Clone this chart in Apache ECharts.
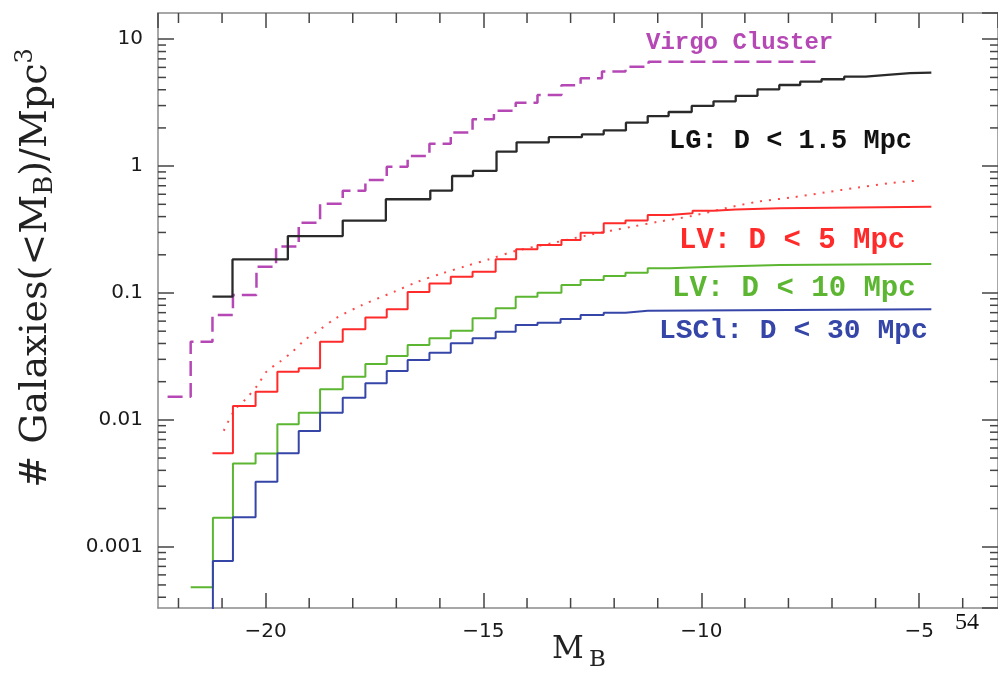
<!DOCTYPE html>
<html><head><meta charset="utf-8">
<script src="https://cdn.jsdelivr.net/npm/echarts@6/dist/echarts.min.js"></script>
<style>html,body{margin:0;padding:0;background:#fff}#c{width:998px;height:673px}</style>
</head><body><div id="c"></div>
<script>
// ---- axis ranges and ticks ----
const xMin = -22.47, xMax = -3.19;
const yMin = 3.29e-4, yMax = 16.1;
const xTickValues = [-20, -15, -10, -5];
const xTickLabels = ['\u221220', '\u221215', '\u221210', '\u22125'];
const xMinorTicks = [-22, -21, -19, -18, -17, -16, -14, -13, -12, -11, -9, -8, -7, -6, -4];
const yTickValues = [0.001, 0.01, 0.1, 1, 10];
const yTickLabels = ['0.001', '0.01', '0.1', '1', '10'];
const yDecades = [1e-4, 1e-3, 1e-2, 1e-1, 1, 10];
const yMinorMult = [2, 3, 4, 5, 6, 7, 8, 9];

// ---- Virgo Cluster (dashed) ----
const virgoM = [-22.25, -21.72, -21.22, -20.75, -20.21, -19.76, -19.24, -18.75, -18.23, -17.71, -17.22, -16.74, -16.24, -15.75, -15.25, -14.76, -14.26, -13.76, -13.21, -12.77, -12.28, -11.74, -11.21, -7.24];
const virgoN = [0.0152, 0.0413, 0.0671, 0.0964, 0.161, 0.232, 0.358, 0.504, 0.640, 0.778, 0.99, 1.20, 1.50, 1.84, 2.34, 2.73, 3.16, 3.64, 4.33, 4.93, 5.56, 6.08, 6.66, 6.66];
// ---- LG: D < 1.5 Mpc ----
const lgM = [-21.22, -20.76, -19.49, -18.23, -17.24, -16.22, -15.72, -15.24, -14.70, -14.24, -13.50, -12.74, -12.24, -11.73, -11.23, -10.75, -10.22, -9.72, -9.21, -8.71, -8.21, -7.73, -7.24, -6.72, -6.23, -5.73, -5.21, -4.72];
const lgN = [0.0935, 0.184, 0.281, 0.372, 0.548, 0.641, 0.836, 0.916, 1.30, 1.54, 1.69, 1.78, 1.91, 2.20, 2.48, 2.67, 2.98, 3.24, 3.58, 4.03, 4.36, 4.63, 4.84, 5.07, 5.23, 5.40, 5.45, 5.45];
// ---- LV: D < 5 Mpc (solid) ----
const lv5M = [-21.22, -20.75, -20.23, -19.73, -19.24, -18.75, -18.23, -17.71, -17.22, -16.74, -16.24, -15.75, -15.25, -14.72, -14.25, -13.76, -13.21, -12.77, -12.24, -11.74, -11.23, -10.73, -10.20, -9.72, -9.21, -8.21, -4.72];
const lv5N = [0.00545, 0.01286, 0.01667, 0.0240, 0.0255, 0.0413, 0.0518, 0.064, 0.0744, 0.102, 0.119, 0.1345, 0.147, 0.1845, 0.221, 0.239, 0.262, 0.2985, 0.354, 0.372, 0.412, 0.425, 0.445, 0.455, 0.466, 0.479, 0.479];
// ---- LV: D < 5 Mpc (dotted curve) ----
const lv5dotM = [-20.96, -20.71, -20.44, -20.18, -19.98, -19.68, -19.39, -19.11, -18.80, -18.38, -17.78, -17.05, -16.51, -15.94, -15.40, -14.87, -14.26, -13.38, -12.58, -11.59, -10.98, -10.22, -9.45, -8.69, -7.93, -7.16, -6.40, -5.64, -4.99];
const lv5dotN = [0.00821, 0.01197, 0.01479, 0.01884, 0.0240, 0.0286, 0.0343, 0.0424, 0.0501, 0.0635, 0.0804, 0.1023, 0.1227, 0.143, 0.163, 0.1845, 0.2145, 0.249, 0.2865, 0.333, 0.365, 0.4045, 0.4655, 0.525, 0.566, 0.620, 0.679, 0.736, 0.771];
// ---- LV: D < 10 Mpc ----
const lv10M = [-21.72, -21.21, -20.75, -20.23, -19.73, -19.24, -18.75, -18.23, -17.71, -17.22, -16.74, -16.24, -15.75, -15.25, -14.72, -14.26, -13.76, -13.21, -12.77, -12.24, -11.74, -11.23, -10.73, -9.72, -8.21, -4.72];
const lv10N = [0.000479, 0.001694, 0.00454, 0.00544, 0.00923, 0.01138, 0.01741, 0.0219, 0.02754, 0.0319, 0.0389, 0.0440, 0.0505, 0.0632, 0.0757, 0.0935, 0.1005, 0.1156, 0.1266, 0.136, 0.1445, 0.1566, 0.161, 0.1664, 0.1695, 0.1695];
// ---- LSCl: D < 30 Mpc (first point lies below the axis: line rises from the bottom edge) ----
const lsclM = [-21.21, -21.21, -20.75, -20.23, -19.73, -19.24, -18.75, -18.23, -17.71, -17.22, -16.74, -16.24, -15.75, -15.25, -14.72, -14.26, -13.76, -13.23, -12.77, -12.24, -11.74, -11.23, -4.72];
const lsclN = [0.0001, 0.000771, 0.001706, 0.003255, 0.00545, 0.00817, 0.01138, 0.01494, 0.0194, 0.02427, 0.02965, 0.0338, 0.0401, 0.0440, 0.0496, 0.056, 0.0584, 0.0624, 0.0671, 0.070, 0.0725, 0.0744, 0.0744];

const zip = (a, b) => a.map((v, i) => [v, b[i]]);
const yMinor = [];
yDecades.forEach(d => yMinorMult.forEach(m => { const v = d * m; if (v > yMin && v < yMax) yMinor.push(v); }));

const C = {virgo: '#b548b5', lg: '#2a2a2a', red: '#ff2a2a', green: '#5cb632', blue: '#3545a8'};
const tickColor = '#444', frameColor = '#8a8a8a';

function stepLine(name, data, color, extra) {
  return Object.assign({
    name, type: 'line', step: 'end', data, showSymbol: false, symbol: 'none', clip: true,
    silent: true, animation: false,
    lineStyle: {color, width: 2}
  }, extra || {});
}

const chart = echarts.init(document.getElementById('c'));
const xAxisBase = {
  type: 'value', min: xMin, max: xMax, splitNumber: 4,
  axisLine: {show: true, onZero: false, lineStyle: {color: frameColor, width: 1.5}},
  axisTick: {show: true, inside: true, length: 15, lineStyle: {color: tickColor, width: 1.5}},
  splitLine: {show: false}
};
const yAxisBase = {
  type: 'log', logBase: 10, min: yMin, max: yMax, splitNumber: 5,
  axisLine: {show: true, onZero: false, lineStyle: {color: frameColor, width: 1.5}},
  axisTick: {show: true, inside: true, length: 16, lineStyle: {color: tickColor, width: 1.5}},
  splitLine: {show: false}
};
const labelFont = {fontFamily: 'DejaVu Sans', fontSize: 20, color: '#1a1a1a'};

chart.setOption({
  animation: false,
  backgroundColor: '#fff',
  grid: {left: 158, top: 13, right: -2, bottom: 65, containLabel: false},
  xAxis: [
    Object.assign({}, xAxisBase, {position: 'bottom',
      axisLabel: Object.assign({show: true, margin: 14, showMinLabel: false, showMaxLabel: false,
        formatter: v => { const i = xTickValues.findIndex(t => Math.abs(t - v) < 1e-6); return i >= 0 ? xTickLabels[i] : ''; }}, labelFont)}),
    Object.assign({}, xAxisBase, {position: 'top', axisLabel: {show: false}})
  ],
  yAxis: [
    Object.assign({}, yAxisBase, {position: 'left',
      axisLabel: Object.assign({show: true, margin: 15, showMinLabel: false, showMaxLabel: false,
        formatter: v => { const i = yTickValues.findIndex(t => Math.abs(Math.log10(t) - Math.log10(v)) < 1e-6); return i >= 0 ? yTickLabels[i] : ''; }}, labelFont)}),
    Object.assign({}, yAxisBase, {position: 'right', axisLabel: {show: false}})
  ],
  series: [
    {
      type: 'custom', silent: true, animation: false, clip: false,
      data: yMinor.map(v => [xMin, v]),
      renderItem: (params, api) => {
        const cs = params.coordSys;
        const y = api.coord([api.value(0), api.value(1)])[1];
        const st = {stroke: tickColor, lineWidth: 1.5};
        return {type: 'group', children: [
          {type: 'line', shape: {x1: cs.x, y1: y, x2: cs.x + 8, y2: y}, style: st},
          {type: 'line', shape: {x1: cs.x + cs.width, y1: y, x2: cs.x + cs.width - 8, y2: y}, style: st}
        ]};
      }
    },
    {
      type: 'custom', silent: true, animation: false, clip: false,
      data: xMinorTicks.map(v => [v, yMin]),
      renderItem: (params, api) => {
        const cs = params.coordSys;
        const x = api.coord([api.value(0), api.value(1)])[0];
        const st = {stroke: tickColor, lineWidth: 1.5};
        return {type: 'group', children: [
          {type: 'line', shape: {x1: x, y1: cs.y + cs.height, x2: x, y2: cs.y + cs.height - 10}, style: st},
          {type: 'line', shape: {x1: x, y1: cs.y, x2: x, y2: cs.y + 10}, style: st}
        ]};
      }
    },
    stepLine('Virgo Cluster', zip(virgoM, virgoN), C.virgo, {lineStyle: {color: C.virgo, width: 2.5, type: [15, 7]}}),
    stepLine('LG: D < 1.5 Mpc', zip(lgM, lgN), C.lg, {lineStyle: {color: C.lg, width: 2.3}}),
    stepLine('LV: D < 5 Mpc', zip(lv5M, lv5N), C.red),
    {name: 'LV: D < 5 Mpc model', type: 'line', data: zip(lv5dotM, lv5dotN), smooth: 0.3, showSymbol: false, symbol: 'none',
      silent: true, animation: false, lineStyle: {color: C.red, width: 2, type: [2, 7], opacity: 0.85}},
    stepLine('LV: D < 10 Mpc', zip(lv10M, lv10N), C.green),
    stepLine('LSCl: D < 30 Mpc', zip(lsclM, lsclN), C.blue)
  ],
  graphic: [
    {type: 'text', left: 646, top: 31, style: {text: 'Virgo Cluster', fill: C.virgo, font: 'bold 24px "Liberation Mono"'}},
    {type: 'text', left: 669, top: 128, style: {text: 'LG: D < 1.5 Mpc', fill: '#111', font: 'bold 27px "Liberation Mono"'}},
    {type: 'text', left: 679, top: 226, style: {text: 'LV: D < 5 Mpc', fill: C.red, font: 'bold 29px "Liberation Mono"'}},
    {type: 'text', left: 672, top: 274, style: {text: 'LV: D < 10 Mpc', fill: C.green, font: 'bold 29px "Liberation Mono"'}},
    {type: 'text', left: 659, top: 317, style: {text: 'LSCl: D < 30 Mpc', fill: C.blue, font: 'bold 28px "Liberation Mono"'}},
    {type: 'text', left: 552, top: 634, style: {text: 'M', fill: '#222', font: '31px "DejaVu Serif"'}},
    {type: 'text', left: 589, top: 649, style: {text: 'B', fill: '#222', font: '23px "DejaVu Serif"'}},
    {type: 'text', left: 955, top: 611, style: {text: '54', fill: '#111', font: '24px "Liberation Serif"'}},
    {type: 'text', x: 36, y: 268, rotation: Math.PI / 2,
      style: {text: '{n|# Galaxies(<M}{s|B}{n|)/Mpc}{p|3}', align: 'center', verticalAlign: 'middle', fill: '#222',
        rich: {
          n: {fontFamily: 'DejaVu Serif', fontSize: 38, lineHeight: 44, verticalAlign: 'middle', fill: '#222'},
          s: {fontFamily: 'DejaVu Serif', fontSize: 26, lineHeight: 26, verticalAlign: 'bottom', fill: '#222'},
          p: {fontFamily: 'DejaVu Serif', fontSize: 24, lineHeight: 24, verticalAlign: 'top', fill: '#222'}
        }}}
  ]
});
</script></body></html>
